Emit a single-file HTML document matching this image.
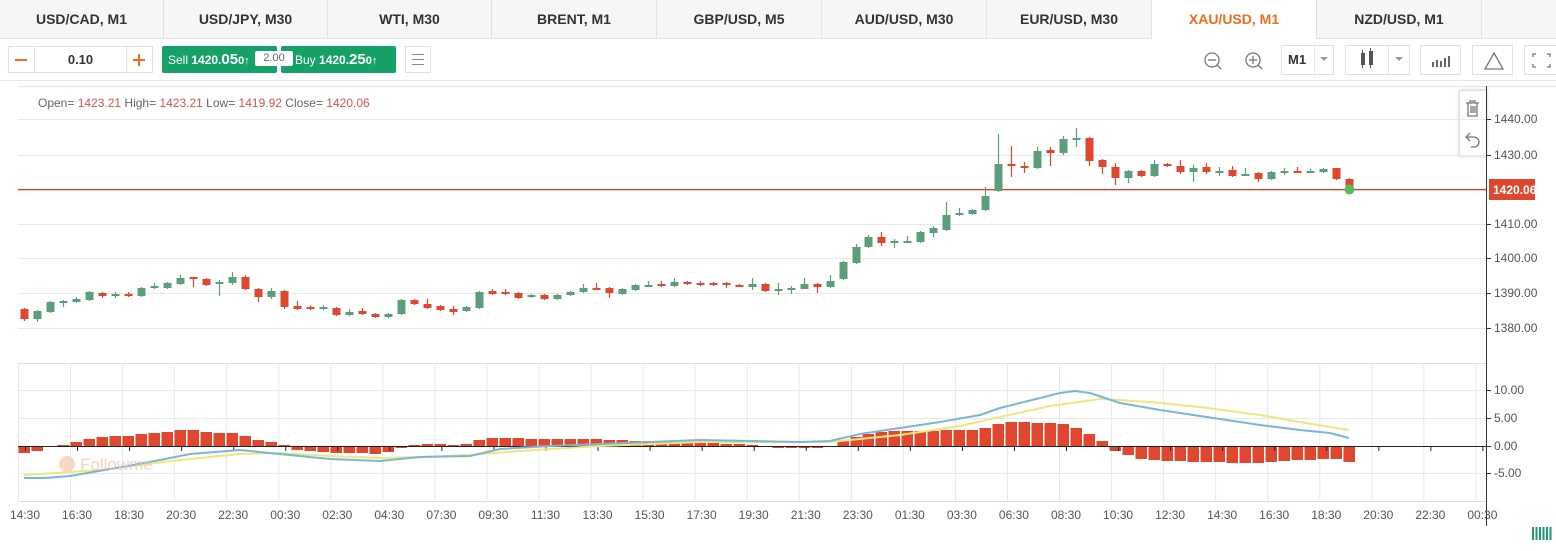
<!DOCTYPE html>
<html><head><meta charset="utf-8"><style>
*{margin:0;padding:0;box-sizing:border-box}
body{width:1556px;height:551px;background:#fff;font-family:"Liberation Sans",Arial,sans-serif;overflow:hidden;position:relative}
.tabs{position:absolute;left:0;top:0;width:1556px;height:39px;background:#f6f6f6;border-bottom:1px solid #e4e4e4}
.tab{position:absolute;top:0;height:39px;line-height:38px;text-align:center;font-size:14px;font-weight:bold;color:#333;border-right:1px solid #e2e2e2}
.tab.act{background:#fff;color:#f26b1d}
.box{position:absolute;border:1px solid #e0e0e0;background:#fff}
</style></head><body>
<div class="tabs">
<div class="tab" style="left:0;width:164px">USD/CAD, M1</div>
<div class="tab" style="left:164px;width:164px">USD/JPY, M30</div>
<div class="tab" style="left:328px;width:164px">WTI, M30</div>
<div class="tab" style="left:492px;width:165px">BRENT, M1</div>
<div class="tab" style="left:657px;width:165px">GBP/USD, M5</div>
<div class="tab" style="left:822px;width:165px">AUD/USD, M30</div>
<div class="tab" style="left:987px;width:165px">EUR/USD, M30</div>
<div class="tab act" style="left:1152px;width:165px">XAU/USD, M1</div>
<div class="tab" style="left:1317px;width:165px">NZD/USD, M1</div>
</div>
<div class="box" style="left:8px;top:46px;width:145px;height:27px"></div>
<div style="position:absolute;left:34px;top:46px;width:1px;height:27px;background:#e0e0e0"></div>
<div style="position:absolute;left:126px;top:46px;width:1px;height:27px;background:#e0e0e0"></div>
<div style="position:absolute;left:15px;top:59px;width:12px;height:2px;background:#f26b1d"></div>
<div style="position:absolute;left:133px;top:59px;width:12px;height:2px;background:#f26b1d"></div>
<div style="position:absolute;left:138px;top:54px;width:2px;height:12px;background:#f26b1d"></div>
<div style="position:absolute;left:35px;top:52px;width:91px;text-align:center;font-size:13px;font-weight:bold;color:#333">0.10</div>
<div style="position:absolute;left:162px;top:46px;width:115px;height:27px;background:#16a267;border-radius:2px;color:#fff;font-size:12px;line-height:27px;padding-left:6px">Sell <b style="font-size:12px">1420.</b><b style="font-size:15px">05</b><b style="font-size:11px">0↑</b></div>
<div style="position:absolute;left:281px;top:46px;width:115px;height:27px;background:#16a267;border-radius:2px;color:#fff;font-size:12px;line-height:27px;padding-left:14px">Buy <b>1420.</b><b style="font-size:15px">25</b><b style="font-size:11px">0↑</b></div>
<div style="position:absolute;left:255px;top:51px;width:38px;height:15px;background:#fff;border-radius:2px;font-size:11px;color:#666;text-align:center;line-height:15px">2.00</div>
<div class="box" style="left:405px;top:46px;width:26px;height:27px"></div>
<div style="position:absolute;left:412px;top:54px;width:12px;height:1px;background:#888;box-shadow:0 5px 0 #888,0 10px 0 #888"></div>
<div style="position:absolute;left:0;top:80px;width:1556px;height:1px;background:#e6e6e6"></div>
<div class="box" style="left:1281px;top:45px;width:53px;height:30px;font-size:13px;font-weight:bold;color:#333;line-height:28px;padding-left:6px">M1</div>
<div style="position:absolute;left:1314px;top:45px;width:1px;height:30px;background:#e6e6e6"></div>
<div class="box" style="left:1345px;top:45px;width:65px;height:30px"></div>
<div style="position:absolute;left:1388px;top:45px;width:1px;height:30px;background:#e6e6e6"></div>
<div class="box" style="left:1420px;top:45px;width:41px;height:30px"></div>
<div class="box" style="left:1472px;top:45px;width:41px;height:30px"></div>
<div class="box" style="left:1524px;top:45px;width:40px;height:30px"></div>
<div class="box" style="left:1459px;top:90px;width:28px;height:66px;box-shadow:0 0 3px #ccc"></div>
<div style="position:absolute;left:38px;top:96px;font-size:12px;color:#666">Open= <span style="color:#d9534f">1423.21</span> High= <span style="color:#d9534f">1423.21</span> Low= <span style="color:#d9534f">1419.92</span> Close= <span style="color:#d9534f">1420.06</span></div>
<svg id="s" width="1556" height="551" style="position:absolute;left:0;top:0" xmlns="http://www.w3.org/2000/svg" font-family="Liberation Sans, Arial, sans-serif">
<g stroke="#777" fill="none" stroke-width="1.3">
<circle cx="1212" cy="60" r="7"/><line x1="1208" y1="60" x2="1216" y2="60"/><line x1="1217" y1="65" x2="1221" y2="69"/>
<circle cx="1253" cy="60" r="7"/><line x1="1249" y1="60" x2="1257" y2="60"/><line x1="1253" y1="56" x2="1253" y2="64"/><line x1="1258" y1="65" x2="1262" y2="69"/>
<path d="M1485 69 L1494 53 L1503 69 Z"/>
<path d="M1536 54h-3v3M1547 54h3v3M1536 67h-3v-3M1547 67h3v-3"/>
<path d="M1466 103h13M1468 103v13h9v-13M1471 106v7M1473 106v7M1475 106v7M1470 103v-2h5v2"/>
<path d="M1470 133l-4 4 4 4M1466 137h8a5 5 0 0 1 0 10h-3"/>
</g>
<path d="M1395 57h8l-4 4z" fill="#999"/>
<path d="M1320 57h8l-4 4z" fill="#999"/>
<g fill="#555"><rect x="1361" y="53" width="4" height="12"/><rect x="1369" y="51" width="4" height="14"/><rect x="1362" y="50" width="1" height="18"/><rect x="1370" y="48" width="1" height="20"/></g>
<g fill="#666"><rect x="1432" y="62" width="2" height="5"/><rect x="1436" y="60" width="2" height="7"/><rect x="1440" y="61" width="2" height="6"/><rect x="1444" y="58" width="2" height="9"/><rect x="1448" y="56" width="2" height="11"/></g>
<g id="g"></g>
</svg>
<script>
var S='';
function L(x1,y1,x2,y2,c,w){S+='<line x1="'+x1+'" y1="'+y1+'" x2="'+x2+'" y2="'+y2+'" stroke="'+c+'" stroke-width="'+(w||1)+'"/>';}
function R(x,y,w,h,c){S+='<rect x="'+x+'" y="'+y+'" width="'+w+'" height="'+h+'" fill="'+c+'"/>';}
function T(x,y,t,c,a){S+='<text x="'+x+'" y="'+y+'" font-size="12" fill="'+(c||'#555')+'"'+(a?' text-anchor="'+a+'"':'')+'>'+t+'</text>';}
L(18,86.5,1556,86.5,'#e6e6e6');
[119.5,155.5,224.5,258.5,293.5,328.5].forEach(function(y){L(18,y,1487,y,'#e8e8e8');});
L(18,363.5,1487,363.5,'#e0e0e0');
[390.5,418.5,473.5].forEach(function(y){L(18,y,1487,y,'#e8e8e8');});
L(18,501.5,1487,501.5,'#e0e0e0');
for(var i=0;i<29;i++){var x=18.5+52.05*i;L(x,364,x,501,'#e8e8e8');}
L(1486.5,86,1486.5,526,'#333');
[[119,'1440.00'],[155,'1430.00'],[224,'1410.00'],[258,'1400.00'],[293,'1390.00'],[328,'1380.00']].forEach(function(p){L(1487,p[0]+.5,1491,p[0]+.5,'#333');T(1494,p[0]+4,p[1]);});
[[390,'10.00'],[418,'5.00'],[446,'0.00'],[473,'-5.00']].forEach(function(p){L(1487,p[0]+.5,1491,p[0]+.5,'#333');T(1494,p[0]+4,p[1]);});
var tl=['14:30','16:30','18:30','20:30','22:30','00:30','02:30','04:30','07:30','09:30','11:30','13:30','15:30','17:30','19:30','21:30','23:30','01:30','03:30','06:30','08:30','10:30','12:30','14:30','16:30','18:30','20:30','22:30','00:30'];
tl.forEach(function(t,i){T(25+52.05*i,519,t,'#555','middle');});
var G='#5c9e7c',Rd='#e1472f';
var cd=[[24,309,319,308,321,0],[37,319,311,310,322,1],[50,312,302,301,313,1],[63,302,301,300,307,1],[76,302,299,297,303,1],[89,300,292,291,301,1],[102,293,296,292,298,0],[115,295,294,292,298,1],[128,294,296,292,297,0],[141,296,288,287,297,1],[154,288,286,283,289,1],[167,288,283,282,289,1],[180,284,278,275,285,1],[193,277,278,277,287,0],[206,279,285,278,286,0],[219,284,282,280,296,1],[232,283,277,272,285,1],[245,277,289,275,290,0],[258,289,297,288,302,0],[271,297,291,288,299,1],[284,291,307,290,309,0],[297,306,309,301,310,0],[310,307,309,305,310,0],[323,309,307,305,310,1],[336,308,315,307,316,0],[349,315,312,309,316,1],[362,311,314,308,315,0],[375,314,317,313,318,0],[388,317,314,313,318,1],[401,314,300,299,315,1],[414,300,304,299,305,0],[427,304,308,299,309,0],[440,306,310,305,311,0],[453,309,312,306,315,0],[466,311,307,306,312,1],[479,308,292,291,309,1],
[492,291,294,289,295,0],[505,292,294,289,295,0],[518,293,298,292,299,0],[531,297,295,294,298,1],[544,295,299,294,300,0],[557,299,295,294,300,1],[570,295,292,291,296,1],[583,292,288,284,293,1],[596,288,289,283,290,0],[609,288,293,287,298,0],[622,294,289,288,295,1],[635,290,285,284,291,1],[648,287,285,281,287,1],[661,284,286,281,287,0],[674,286,282,278,287,1],[687,282,284,281,285,0],[700,283,284,281,286,0],[713,283,284,282,286,0],[726,283,285,282,288,0],[739,285,287,284,287,0],[752,287,284,278,290,1],[765,284,291,283,292,0],[778,290,289,283,295,1],[791,289,288,286,294,1],[804,289,284,278,289,1],[817,284,287,283,293,0],[830,287,281,275,288,1],[843,279,262,261,280,1],[856,263,247,244,264,1],[868,247,237,235,248,1],[881,237,243,232,246,0],[894,242,241,239,248,1],[907,242,241,236,243,1],[920,242,232,231,243,1],[933,233,228,226,237,1],[946,230,215,202,231,1],[959,215,213,208,216,1],[972,214,210,209,215,1],[985,210,196,187,211,1],[998,191,164,134,192,1],[1011,164,166,146,177,0],[1024,166,168,162,173,0],[1037,168,151,147,169,1],[1050,150,153,147,166,0],[1063,153,139,136,155,1],[1076,139,138,128,147,1],[1089,138,161,137,166,0],[1102,160,167,159,174,0],[1115,167,178,163,185,0],[1128,178,171,170,183,1],[1141,171,176,170,177,0],[1154,176,164,160,177,1],[1167,164,166,163,167,0],[1180,166,172,160,174,0],[1193,172,168,165,182,1],[1206,167,172,163,174,0],[1219,172,171,167,176,1],[1232,170,176,166,177,0],[1245,175,174,168,176,1],[1258,173,179,172,182,0],[1271,179,172,171,180,1],[1284,173,171,168,175,1],[1297,171,172,167,173,0],[1310,172,171,169,173,1],[1323,172,169,168,173,1],[1336,168,179,168,180,0],[1349,179,186,178,189,0]];
R(18,189,1469,1.3,'#d63a26');
cd.forEach(function(c){var col=c[5]?G:Rd;L(c[0]+.5,c[3],c[0]+.5,c[4],col,1.2);var t=Math.min(c[1],c[2]),h=Math.max(2,Math.abs(c[1]-c[2]));R(c[0]-3.5,t,8,h,col);});
S+='<circle cx="1349.5" cy="189.5" r="5" fill="#5bbd5a"/>';
R(1489,179,46,21,'#e1472f');S+='<text x="1493" y="194" font-size="12" font-weight="bold" fill="#fff">1420.06</text>';
var hp=[[24,453],[37,451],[50,447],[63,445],[76,442],[89,439],[102,437],[115,436],[128,436],[141,434],[154,433],[167,432],[180,430],[193,430],[206,432],[219,433],[232,433],[245,436],[258,440],[271,442],[284,445],[297,450],[310,451],[323,452],[336,453],[349,453],[362,453],[375,454],[388,452],[401,448],[414,445],[427,444],[440,444],[453,445],[466,444],[479,440],[492,438],[505,438],[518,438],[531,439],[544,439],[557,439],[570,439],[583,439],[596,439],[609,440],[622,440],[635,441],[648,441],[661,441],[674,442],[687,442],[700,443],[713,443],[726,444],[739,444],[752,445],[765,447],[778,448],[791,448],[804,448],[817,448],[830,446],[843,441],[856,437],[868,434],[881,432],[894,431],[907,431],[920,431],[933,431],[946,430],[959,430],[972,430],[985,428],[998,424],[1011,422],[1024,422],[1037,423],[1050,423],[1063,424],[1076,428],[1089,434],[1102,441],[1115,451],[1128,455],[1141,459],[1154,460],[1167,461],[1180,461],[1193,462],[1206,462],[1219,462],[1232,463],[1245,463],[1258,463],[1271,462],[1284,461],[1297,460],[1310,460],[1323,459],[1336,459],[1349,462]];
hp.forEach(function(b){var y0=446,t=Math.min(y0,b[1]),h=Math.abs(b[1]-y0);if(h<1)h=1;R(b[0]-5.5,t,11.5,h,'#e1472f');});
L(18,446.5,1487,446.5,'#222');
for(var i=0;i<29;i++){var x=25.5+52.05*i;L(x,446,x,451,'#222');}
function P(pts,c){S+='<polyline fill="none" stroke="'+c+'" stroke-width="2" stroke-linejoin="round" points="'+pts.map(function(p){return p.join(',')}).join(' ')+'"/>';}
P([[24,475],[100,470],[180,460],[240,454],[280,453],[330,456],[380,458],[420,457],[470,455],[520,451],[600,446],[700,442],[800,442],[830,442],[900,435],[960,426],[1000,417],[1050,406],[1100,399],[1150,402],[1200,407],[1260,415],[1300,422],[1349,430]],'#ece77e');
P([[24,478],[45,478],[70,476],[122,467],[160,460],[190,454],[240,450],[279,454],[330,459],[380,461],[420,457],[470,456],[500,449],[550,446],[600,444],[700,440],[750,441],[800,442],[830,441],[860,434],[900,428],[940,422],[980,415],[1000,408],[1040,398],[1060,393],[1075,391],[1090,393],[1120,403],[1160,410],[1200,416],[1260,425],[1300,430],[1330,433],[1349,438]],'#7cb6d6');
S+='<text x="80" y="470" font-size="17" fill="#f3c8b4" opacity="0.8">Followme</text><circle cx="67" cy="464" r="8" fill="#f6cdb6" opacity="0.8"/>';
for(var k=0;k<6;k++)R(1532+k*3.5,527,2,13,'#1f9a70');
document.getElementById('g').innerHTML=S;
</script>
</body></html>
